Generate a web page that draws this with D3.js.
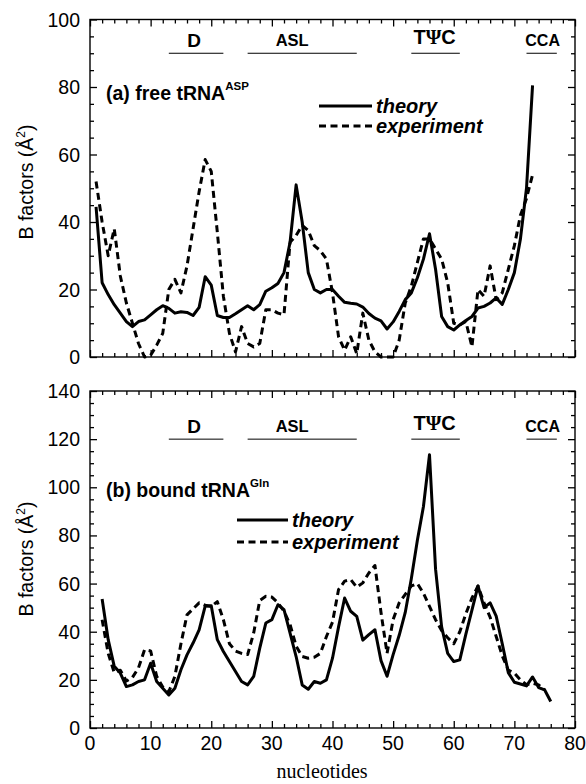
<!DOCTYPE html>
<html>
<head>
<meta charset="utf-8">
<script src="https://cdn.jsdelivr.net/npm/d3@7"></script>
<style>
  body { margin: 0; background: #fff; }
  svg { display: block; }
</style>
</head>
<body>
<svg id="chart" width="586" height="784"></svg>
<script>
// ---- data: B factors per nucleotide ----
const freeNucleotides = d3.range(1, 74);
const freeTheory = [
  44.5, 22, 18.5, 15.5, 13, 10.5, 9, 10.5, 11, 12.5,
  14, 15.2, 14.4, 13, 13.4, 13.2, 12.3, 14.7, 23.8, 21.3,
  12.3, 11.7, 11.7, 12.8, 14, 15.2, 14, 15.5, 19.5, 20.5,
  21.8, 25, 34, 51, 40, 25, 20, 19, 20, 20,
  18, 16.2, 15.9, 15.7, 14.8, 12.9, 11.5, 10.7, 8.3, 10.4,
  13.5, 17, 19, 23.5, 29, 36.5, 26, 12, 9, 8,
  9.5, 10.8, 12, 14.5, 15, 16, 17.5, 15.6, 20, 25,
  35, 50, 80.5
];
const freeExperiment = [
  52, 40, 30, 38, 24, 16, 10, 4, 0, 0.5,
  3.5, 7, 20, 23, 19, 27, 38, 49, 58.5, 55,
  37, 18, 7, 1.5, 9, 4, 3, 4, 14, 14,
  13, 12.5, 34, 36, 39, 37.5, 33, 31.5, 29, 19,
  6, 2, 6, 1, 13, 5, 1.5, 0, 0, 0,
  5, 16, 21, 28, 35, 35, 32, 29, 22, 10,
  9.5, 10.5, 3, 20, 18, 27, 17, 19, 26, 33,
  42, 47, 54
];

const boundTheoryNucleotides = d3.range(2, 77);
const boundTheory = [
  53.6, 36.7, 25.6, 22.8, 17.2, 17.9, 19.3, 20, 26.9,
  19.3, 16.5, 13.7, 16.5, 24.2, 30.4, 35.3, 40.8, 50.6, 50.8,
  36.7, 31.8, 27.6, 23.5, 19.3, 17.9, 21.4, 33.2, 43.6, 45,
  51.2, 49.2, 39.4, 29.7, 17.9, 16.1, 19.3, 18.6, 20, 29,
  42, 54, 48.5, 46.4, 36.5, 38.8, 40.8, 28, 21.5, 30.5,
  38.5, 48, 62, 78, 92, 113.5, 66, 42, 31, 27.6,
  28.3, 39, 49, 59, 50, 52, 46.5, 35, 23, 19,
  18.3, 17.5, 21.2, 16.8, 15.8, 11
];
const boundExperimentNucleotides = d3.range(2, 76);
const boundExperiment = [
  45, 31, 23, 24, 19.5, 21, 25, 32.5, 32,
  21.5, 17, 15, 21.5, 35, 47, 49.5, 52, 51, 50.5,
  52.5, 45, 35, 32, 31, 30.5, 39.5, 53, 54.7, 54.4,
  52, 48.5, 43, 34, 29.7, 29, 29.4, 31, 38, 44,
  57.5, 61, 61.7, 58.5, 60.3, 64.4, 67.5, 48, 31, 45,
  52, 55.5, 59, 60, 56, 50.5, 45, 40.5, 37.5, 35,
  40, 47.5, 54, 59, 52, 46, 38, 30, 24, 22.8,
  20, 18, 18.6, 17.9, 15.8
];

// structural regions of the tRNA (nucleotide ranges)
const regionNames = ["D", "ASL", "T\u03A8C", "CCA"];
const regionStart = [13, 26, 53, 72];
const regionEnd = [22, 44, 61, 77];

const xTickLabels = [0, 10, 20, 30, 40, 50, 60, 70, 80];
const freeYTickLabels = [0, 20, 40, 60, 80, 100];
const boundYTickLabels = [0, 20, 40, 60, 80, 100, 120, 140];

// ---- drawing ----
const svg = d3.select("#chart");
const sans = "'Liberation Sans', Arial, Helvetica, sans-serif";
const serif = "'Liberation Serif', 'Times New Roman', serif";

const x = d3.scaleLinear().domain([0, 80]).range([90, 575]);

function drawPanel(opt) {
  const y = d3.scaleLinear().domain([0, opt.yMax]).range([opt.bottom, opt.top]);
  const g = svg.append("g");

  // frame
  g.append("rect")
    .attr("x", x(0)).attr("y", opt.top)
    .attr("width", x(80) - x(0)).attr("height", opt.bottom - opt.top)
    .attr("fill", "none").attr("stroke", "#000").attr("stroke-width", 1.4);

  const xMinor = d3.range(0, 81, 2).filter(v => v % 10 !== 0);
  const yMinor = d3.range(0, opt.yMax + 1, 5).filter(v => v % 20 !== 0);

  function tickAxis(gen, scale, major, minor, transform) {
    const a = g.append("g").attr("transform", transform);
    a.call(gen(scale).tickValues(major).tickSize(-7).tickFormat(""));
    a.append("g").call(gen(scale).tickValues(minor).tickSize(-4).tickFormat(""));
    a.selectAll(".domain").remove();
    a.selectAll("line").attr("stroke", "#000").attr("stroke-width", 1.3);
  }
  tickAxis(d3.axisBottom, x, xTickLabels, xMinor, `translate(0,${opt.bottom})`);
  tickAxis(d3.axisTop, x, xTickLabels, xMinor, `translate(0,${opt.top})`);
  tickAxis(d3.axisLeft, y, opt.yLabels, yMinor, `translate(${x(0)},0)`);
  tickAxis(d3.axisRight, y, opt.yLabels, yMinor, `translate(${x(80)},0)`);

  // y tick labels
  g.append("g").selectAll("text").data(opt.yLabels).join("text")
    .attr("x", x(0) - 10).attr("y", d => y(d)).attr("dy", "0.36em")
    .attr("text-anchor", "end")
    .attr("font-family", sans).attr("font-size", 19.5)
    .text(d => d);

  if (opt.xLabels) {
    g.append("g").selectAll("text").data(xTickLabels).join("text")
      .attr("x", d => x(d)).attr("y", opt.bottom + 22)
      .attr("text-anchor", "middle")
      .attr("font-family", sans).attr("font-size", 19.5)
      .text(d => d);
  }

  // y axis title
  const yt = g.append("text")
    .attr("transform", `translate(33,${opt.titleY}) rotate(-90)`)
    .attr("text-anchor", "middle")
    .attr("font-family", sans).attr("font-size", 19.5);
  yt.append("tspan").text("B factors (\u00C5");
  yt.append("tspan").attr("font-size", 12).attr("dy", -8).text("2");
  yt.append("tspan").attr("dy", 8).text(")");

  // region bars and names
  const ry = y(opt.regionLevel);
  const labelSize = [19, 16.5, 20, 16];
  const labelShift = [-2, -10, -1, 1];
  const labelLift = [6, 7, 9, 7];
  regionNames.forEach((name, i) => {
    g.append("line")
      .attr("x1", x(regionStart[i])).attr("x2", x(regionEnd[i]))
      .attr("y1", ry).attr("y2", ry)
      .attr("stroke", "#000").attr("stroke-width", 1);
    const t = g.append("text")
      .attr("x", (x(regionStart[i]) + x(regionEnd[i])) / 2 + labelShift[i])
      .attr("y", ry - labelLift[i])
      .attr("text-anchor", "middle")
      .attr("font-family", sans).attr("font-weight", "bold")
      .attr("font-size", labelSize[i]);
    if (name.includes("\u03A8")) {
      t.append("tspan").text("T");
      t.append("tspan").attr("font-family", serif).text("\u03A8");
      t.append("tspan").text("C");
    } else {
      t.text(name);
    }
  });

  // panel title
  const pt = g.append("text")
    .attr("x", 106).attr("y", opt.nameY)
    .attr("font-family", sans).attr("font-weight", "bold").attr("font-size", 19.5);
  pt.append("tspan").text(opt.name);
  pt.append("tspan").attr("font-size", 11.5).attr("dy", -10).text(opt.sup);

  // curves
  const line = d3.line().x(d => x(d[0])).y(d => y(d[1]));
  g.append("path")
    .datum(d3.zip(opt.expX, opt.exp))
    .attr("d", line)
    .attr("fill", "none").attr("stroke", "#000").attr("stroke-width", 3)
    .attr("stroke-dasharray", "7,4.5").attr("stroke-linejoin", "round");
  g.append("path")
    .datum(d3.zip(opt.theoryX, opt.theory))
    .attr("d", line)
    .attr("fill", "none").attr("stroke", "#000").attr("stroke-width", 3)
    .attr("stroke-linejoin", "round");

  // legend
  const L = opt.legend;
  [["theory", null], ["experiment", "7,4.5"]].forEach(([label, dash], i) => {
    const ly = L.y + i * L.gap;
    g.append("line")
      .attr("x1", L.x1).attr("x2", L.x2).attr("y1", ly).attr("y2", ly)
      .attr("stroke", "#000").attr("stroke-width", 3)
      .attr("stroke-dasharray", dash);
    g.append("text")
      .attr("x", L.x2 + 4).attr("y", ly + 6.5)
      .attr("font-family", sans).attr("font-weight", "bold").attr("font-style", "italic")
      .attr("font-size", 20)
      .text(label);
  });
}

drawPanel({
  top: 19.5, bottom: 357, yMax: 100, yLabels: freeYTickLabels,
  xLabels: false, titleY: 182, regionLevel: 90,
  name: "(a) free tRNA", sup: "ASP", nameY: 100,
  theoryX: freeNucleotides, theory: freeTheory,
  expX: freeNucleotides, exp: freeExperiment,
  legend: { x1: 319, x2: 372, y: 106, gap: 20 }
});

drawPanel({
  top: 391, bottom: 728, yMax: 140, yLabels: boundYTickLabels,
  xLabels: true, titleY: 559, regionLevel: 120,
  name: "(b) bound tRNA", sup: "Gln", nameY: 497,
  theoryX: boundTheoryNucleotides, theory: boundTheory,
  expX: boundExperimentNucleotides, exp: boundExperiment,
  legend: { x1: 237, x2: 288, y: 520, gap: 22 }
});

svg.append("text")
  .attr("x", 322).attr("y", 778)
  .attr("text-anchor", "middle")
  .attr("font-family", serif).attr("font-size", 20)
  .text("nucleotides");
</script>
</body>
</html>
